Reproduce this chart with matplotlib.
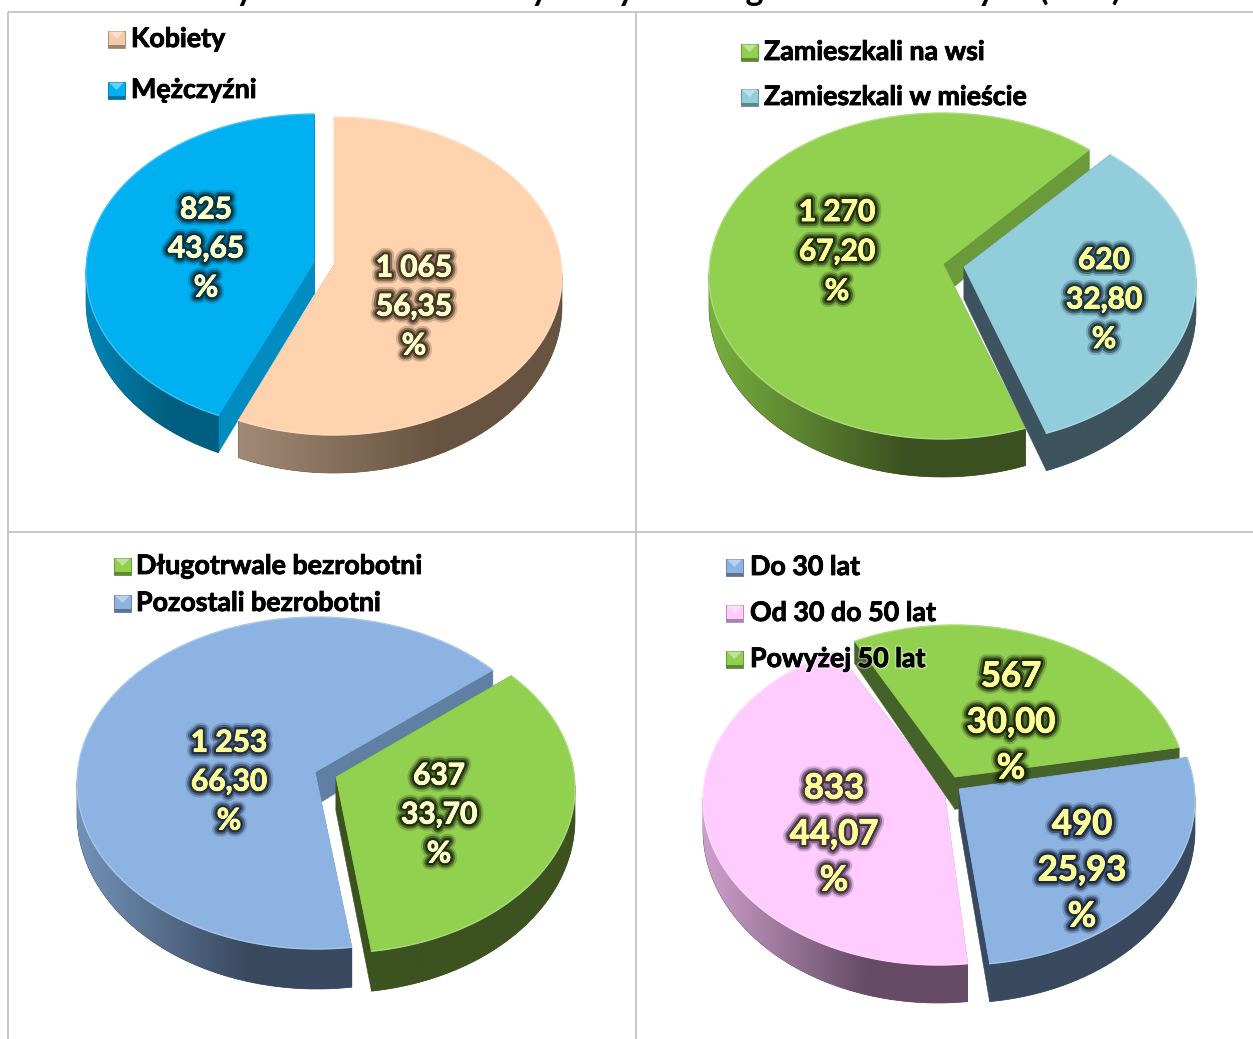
import numpy as np
import matplotlib
matplotlib.use("Agg")
import matplotlib.pyplot as plt
from matplotlib.patches import Polygon
import matplotlib.patheffects as pe

# ---- data ----
title_text = "Wykreślenia osób z wybranych kategorii bezrobotnych (w %)."
gender_names = ["Kobiety", "Mężczyźni"]
gender_values = [1065, 825]
gender_labels = ["1 065\n56,35\n%", "825\n43,65\n%"]
place_names = ["Zamieszkali na wsi", "Zamieszkali w mieście"]
place_values = [1270, 620]
place_labels = ["1 270\n67,20\n%", "620\n32,80\n%"]
term_names = ["Długotrwale bezrobotni", "Pozostali bezrobotni"]
term_values = [637, 1253]
term_labels = ["637\n33,70\n%", "1 253\n66,30\n%"]
age_names = ["Do 30 lat", "Od 30 do 50 lat", "Powyżej 50 lat"]
age_values = [490, 833, 567]
age_labels = ["490\n25,93\n%", "833\n44,07\n%", "567\n30,00\n%"]

# ---- style / layout (pixels) ----
W, H = 1253, 1039
FONT = "Lato"
PEACH = dict(top="#FFD3AE", face="#8C6E58", dark="#67533F", light="#A28A76", mark="#F4CBA8", glow="#3F3020", txt="#FFFFCC")
SKY = dict(top="#00B0F0", face="#008CC0", dark="#005F80", light="#0085B5", mark="#00B0F0", glow="#06303F", txt="#FFFFCC")
LIME = dict(top="#92D050", face="#6A9A3A", dark="#3B5020", light="#78B03E", mark="#92D050", glow="#1C2A0C", txt="#FFFF99")
LIME2 = dict(top="#92D050", face="#3C5320", dark="#3C5320", light="#3C5320", mark="#92D050", glow="#1C2A0C", txt="#FFFFCC")
LIME3 = dict(top="#92D050", face="#45622A", dark="#3C5320", light="#3C5320", mark="#92D050", glow="#1A240A", txt="#FFFF99")
AQUA = dict(top="#92CDDC", face="#3D545E", dark="#3D545E", light="#3D545E", mark="#92CDDC", glow="#16323C", txt="#FFFF99")
BLUE = dict(top="#8DB3E2", face="#5F7FA3", dark="#39495F", light="#7392B8", mark="#8DB3E2", glow="#1E2C40", txt="#FFFF99")
BLUE2 = dict(top="#8DB3E2", face="#39495F", dark="#39495F", light="#39495F", mark="#8DB3E2", glow="#18243A", txt="#FFFF99")
PINK = dict(top="#FFCCFF", face="#8A6888", dark="#664A66", light="#CDA0CC", mark="#FFCCFF", glow="#3E2C3E", txt="#FFFF99")
WARP = 5.0  # perspective: near side of a pie looks slightly narrower in angle than true

PANELS = [
    dict(names=gender_names, values=gender_values, labels=gender_labels, start=0.0,
         clock=[0, 1], draw=[1, 0], depth=38, fs=21.5, lfs=19.3,
         geom=[(334, 276, 228, 159, 334, 265), (314, 272, 228, 158, 314, 262)],
         style=[PEACH, SKY],
         text=[(414, 305), (206, 247)], step=39,
         leg_x=108, leg_y=[39, 90], txt_dx=23),
    dict(names=place_names, values=place_values, labels=place_labels, start=42.6,
         clock=[1, 0], draw=[0, 1], depth=38, fs=21.5, lfs=19.3,
         geom=[(942, 276, 233, 163, 943, 264), (963, 281, 233, 163, 964, 267)],
         style=[LIME, AQUA],
         text=[(837, 250), (1104, 298)], step=39.5,
         leg_x=741, leg_y=[52, 97], txt_dx=23),
    dict(names=term_names, values=term_values, labels=term_labels, start=51.0,
         clock=[0, 1], draw=[1, 0], depth=40, fs=21.5, lfs=19.3,
         geom=[(337, 788, 238, 165, 336, 777), (317, 783, 240, 166, 315, 772)],
         style=[LIME2, BLUE],
         text=[(439, 813), (229, 780)], step=39,
         leg_x=114, leg_y=[566, 603], txt_dx=22),
    dict(names=age_names, values=age_values, labels=age_labels, start=80.0,
         clock=[0, 1, 2], draw=[1, 2, 0], depth=38, fs=25, lfs=19.3,
         geom=[(960, 800, 235, 165, 959, 789), (938, 800, 235, 165, 944, 790),
               (955, 790, 232, 165, 955, 777)],
         style=[BLUE2, PINK, LIME3],
         text=[(1082, 869), (834, 833), (1011, 721)], step=46,
         leg_x=726, leg_y=[567, 613, 659], txt_dx=24),
]


def rgb(c):
    return np.array(matplotlib.colors.to_rgb(c))


def mix(a, b, t):
    return tuple(rgb(a) * (1 - t) + rgb(b) * t)


fig = plt.figure(figsize=(W / 100, H / 100), dpi=100)
ax = fig.add_axes([0, 0, 1, 1])
ax.axis("off")

# frame of the table holding the four charts
GRID = "#BFBFBF"
for x0, y0, x1, y1 in [(8, 12, 1253, 12), (8, 532, 1253, 532), (8, 12, 8, 1039), (636, 12, 636, 1039)]:
    ax.plot([x0, x1], [y0, y1], color=GRID, lw=1.2, zorder=1, solid_capstyle="butt")

ax.text(200, 0.5, title_text, fontsize=24.5, fontweight="bold", family=FONT, color="black",
        ha="left", va="baseline", zorder=20)


def draw_slice(z, a0, a1, geom, depth, st):
    cx, cy, rx, ry, ax_, ay_ = geom
    true_deg = np.linspace(a0, a1, 240)
    th = np.radians(true_deg - WARP * np.sin(np.radians(true_deg)))
    px = cx + rx * np.sin(th)
    py = cy - ry * np.cos(th)
    dep = lambda t: depth * (0.78 - 0.22 * np.cos(t))
    apex_d = depth * 0.85

    # cut faces of both radial edges
    for t, x, y in [(th[0], px[0], py[0]), (th[-1], px[-1], py[-1])]:
        ax.add_patch(Polygon([(ax_, ay_), (x, y), (x, y + dep(t)), (ax_, ay_ + apex_d)],
                             closed=True, fc=st["face"], ec=st["face"], lw=0.4, zorder=z))
    # outer wall, shaded left to right
    idx = np.where(np.cos(th) < 0.02)[0]
    if len(idx) > 1:
        xs, ys = px[idx], py[idx]
        ds = dep(th[idx])
        outline = np.vstack([np.column_stack([xs, ys]), np.column_stack([xs, ys + ds])[::-1]])
        wall = Polygon(outline, closed=True, fc=st["dark"], ec=st["dark"], lw=0.5, zorder=z)
        ax.add_patch(wall)
        xl, xr = xs.min(), xs.max()
        t = np.clip(np.linspace(0, 1, 128) / 0.62, 0, 1)[None, :, None]
        grad = rgb(st["light"])[None, None, :] * (1 - t) + rgb(st["dark"])[None, None, :] * t
        im = ax.imshow(grad, extent=(xl, xr, (ys + ds).max() + 2, ys.min() - 2), aspect="auto",
                       zorder=z + 0.01, interpolation="bilinear")
        im.set_clip_path(wall)
    # top surface
    ax.add_patch(Polygon(np.vstack([[ax_, ay_], np.column_stack([px, py])]), closed=True,
                         fc=st["top"], ec=st["top"], lw=0.6, zorder=z + 0.1))
    rim = mix(st["top"], "#FFFFFF", 0.35)
    ax.plot(px, py, color=rim, lw=1.0, alpha=0.7, zorder=z + 0.2)


def draw_marker(x, y, col):
    s = 17
    x0, x1, y0, y1 = x, x + s, y - s / 2, y + s / 2
    ax.add_patch(Polygon([(x0, y0), (x1, y0), (x1, y1), (x0, y1)], closed=True,
                         fc=col, ec=mix(col, "#000000", 0.35), lw=0.6, zorder=12))
    ax.add_patch(Polygon([(x0 + 1, y0 + 1), (x1 - 1, y0 + 1), ((x0 + x1) / 2, y0 + s * 0.5)], closed=True,
                         fc=mix(col, "#FFFFFF", 0.4), ec="none", zorder=12.1))
    ax.add_patch(Polygon([(x0, y1 - 3), (x1, y1 - 3), (x1, y1), (x0, y1)], closed=True,
                         fc=mix(col, "#000000", 0.35), ec="none", zorder=12.1))


for pn, p in enumerate(PANELS):
    vals = np.array(p["values"], dtype=float)
    sweep = vals / vals.sum() * 360.0
    a = p["start"]
    spans = {}
    for k in p["clock"]:
        spans[k] = (a, a + sweep[k])
        a += sweep[k]
    for order, k in enumerate(p["draw"]):
        draw_slice(3 + order, spans[k][0], spans[k][1], p["geom"][k], p["depth"], p["style"][k])
    for k, lab in enumerate(p["labels"]):
        x, y = p["text"][k]
        st = p["style"][k]
        for line, off in zip(lab.split("\n"), (-1, 0, 1)):
            ax.text(x, y + 1.5 + off * p["step"], line, family=FONT, fontweight="bold", fontsize=p["fs"],
                    color=st["txt"], ha="center", va="center", zorder=15,
                    path_effects=[pe.withStroke(linewidth=10, foreground=st["glow"], alpha=0.22),
                                  pe.withStroke(linewidth=7, foreground=st["glow"], alpha=0.5),
                                  pe.withStroke(linewidth=4, foreground=st["glow"], alpha=0.9),
                                  pe.withStroke(linewidth=0.6, foreground=st["txt"])])
    for k, nm in enumerate(p["names"]):
        y = p["leg_y"][k]
        draw_marker(p["leg_x"], y, p["style"][k]["mark"])
        ax.text(p["leg_x"] + p["txt_dx"], y, nm, family=FONT, fontweight="bold", fontsize=p["lfs"],
                color="black", ha="left", va="center", zorder=13,
                path_effects=[pe.withStroke(linewidth=3, foreground="white", alpha=0.35),
                              pe.withStroke(linewidth=0.6, foreground="black")])

ax.set_xlim(0, W)
ax.set_ylim(H, 0)
fig.savefig("out.png", dpi=100, facecolor="white")
